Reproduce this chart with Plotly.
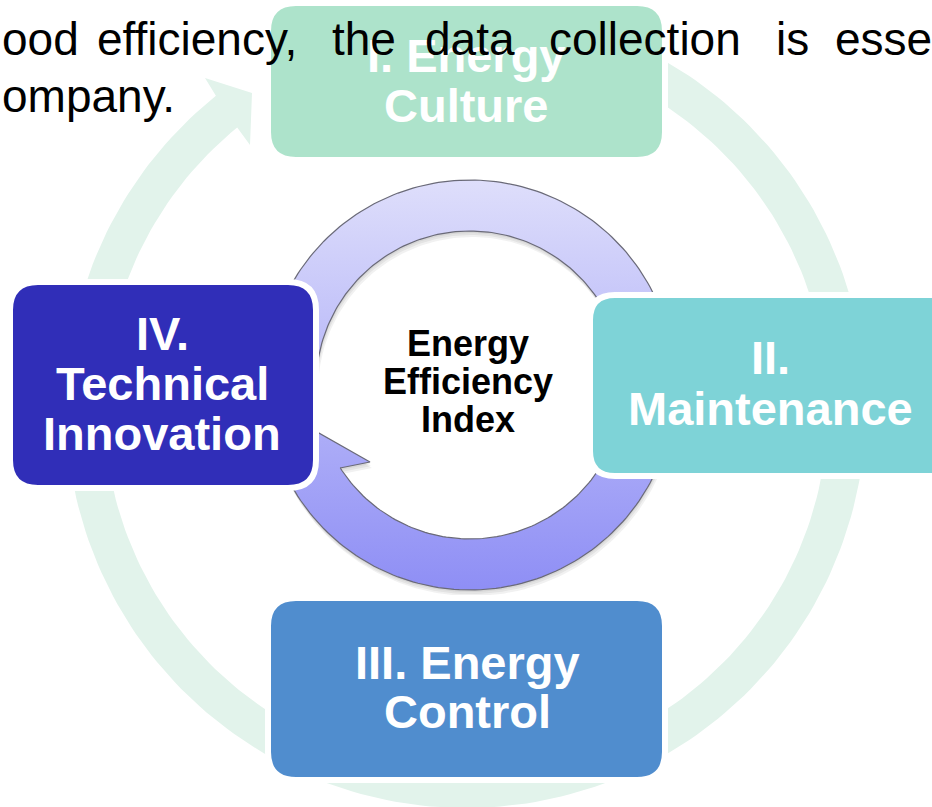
import numpy as np
import plotly.graph_objects as go

# ---- content (text / categories) ----
stage_lines = [
    ["I. Energy", "Culture"],
    ["II.", "Maintenance"],
    ["III. Energy", "Control"],
    ["IV.", "Technical", "Innovation"],
]
stage_colors = ["#ade3cb", "#7ed3d7", "#508dce", "#302eb8"]
center_lines = ["Energy", "Efficiency", "Index"]
body_line1 = ["ood", "efficiency,", "the", "data", "collection", "is", "esse"]
body_line2 = ["ompany."]

# ---- layout constants (positions / sizes) ----
W, H = 932, 807
box_geom = [  # x0, x1, y0, y1, corner radius (screen px)
    (271, 662, 6, 157, 25),
    (593, 965, 298, 473, 22),
    (271, 662, 601, 777, 25),
    (13, 313, 285, 485, 25),
]
stage_baselines = [[72, 122], [374, 425], [679, 728], [350, 400, 450]]
stage_cx = [466, 770, 467, 162]
center_baselines = [356, 394, 432]
body1_x = [0, 98, 333, 426, 550, 777, 836]
body1_base = 55
body2_x = [0]
body2_base = 112

BIG_C, BIG_RO, BIG_RI = (466, 408), 400, 362
IN_C, IN_RO, IN_RI = (470, 385), 205, 154


def arc(c, r, a0, a1, n=240):
    p = np.radians(np.linspace(a0, a1, n))
    return c[0] + r * np.cos(p), c[1] + r * np.sin(p)


def rrect(x0, x1, y0, y1, r):
    return (f"M{x0+r},{y0} L{x1-r},{y0} Q{x1},{y0} {x1},{y0+r} "
            f"L{x1},{y1-r} Q{x1},{y1} {x1-r},{y1} L{x0+r},{y1} "
            f"Q{x0},{y1} {x0},{y1-r} L{x0},{y0+r} Q{x0},{y0} {x0+r},{y0} Z")


fig = go.Figure()

# ---- big background circular arrow ----
xo, yo = arc(BIG_C, BIG_RO, -70, 231.3)
xi, yi = arc(BIG_C, BIG_RI, 230.8, -70)
hx = [205, 252, 250]
hy = [78, 93, 145]
bx = np.concatenate([xo, hx, xi, [xo[0]]])
by = np.concatenate([yo, hy, yi, [yo[0]]])
fig.add_trace(go.Scatter(x=bx, y=by, fill="toself", fillcolor="#e2f3eb",
                         line=dict(width=0, color="#e2f3eb"), mode="lines",
                         hoverinfo="skip", showlegend=False))

# ---- inner circular arrow ----
xo, yo = arc(IN_C, IN_RO, 185, 535)
xi, yi = arc(IN_C, IN_RI, 507.4, 185)
ax_ = np.concatenate([xo, [370, 340], xi, [xo[0]]])
ay_ = np.concatenate([yo, [462, 468], yi, [yo[0]]])
for dx, dy, op in [(2, 6, 0.07), (1, 4, 0.08), (0.5, 2, 0.08)]:
    fig.add_trace(go.Scatter(x=ax_ + dx, y=ay_ + dy, fill="toself",
                             fillcolor=f"rgba(60,60,60,{op})",
                             line=dict(width=0), mode="lines",
                             hoverinfo="skip", showlegend=False))
fig.add_trace(go.Scatter(x=ax_, y=ay_, fill="toself",
                         fillgradient=dict(type="vertical",
                                           colorscale=[[0, "#dedefb"], [1, "#8e8ef5"]],
                                           start=181, stop=592),
                         line=dict(width=1.2, color="#6a6a78"), mode="lines",
                         hoverinfo="skip", showlegend=False))

# ---- boxes ----
shapes = []
for (x0, x1, y0, y1, r), col in zip(box_geom, stage_colors):
    shapes.append(dict(type="path", path=rrect(x0 - 3, x1 + 3, y0 - 3, y1 + 3, r + 3),
                       xref="x", yref="y", fillcolor=col,
                       line=dict(color="white", width=6), layer="above"))

annotations = []
FS = 47
for lines, bases, cx in zip(stage_lines, stage_baselines, stage_cx):
    for t, b in zip(lines, bases):
        annotations.append(dict(x=cx, y=b - 0.35 * FS, xref="x", yref="y", text=t,
                                showarrow=False, xanchor="center", yanchor="middle",
                                font=dict(family="Liberation Sans, Arial", size=FS,
                                          color="white", weight="bold")))
FC = 36
for t, b in zip(center_lines, center_baselines):
    annotations.append(dict(x=468, y=b - 0.35 * FC, xref="x", yref="y", text=t,
                            showarrow=False, xanchor="center", yanchor="middle",
                            font=dict(family="Liberation Sans, Arial", size=FC,
                                      color="black", weight="bold")))
FB = 46
for t, x in zip(body_line1 + body_line2, body1_x + body2_x):
    base = body1_base if t in body_line1 else body2_base
    annotations.append(dict(x=max(x - 3, 0.01), y=base - 0.35 * FB, xref="x", yref="y",
                            text=t, showarrow=False, xanchor="left", yanchor="middle",
                            font=dict(family="Liberation Sans, Arial", size=FB,
                                      color="black")))

fig.update_layout(
    width=W, height=H, margin=dict(l=0, r=0, t=0, b=0),
    paper_bgcolor="white", plot_bgcolor="white",
    xaxis=dict(range=[0, W], visible=False, fixedrange=True),
    yaxis=dict(range=[H, 0], visible=False, fixedrange=True),
    shapes=shapes, annotations=annotations, showlegend=False,
)
fig.write_html("out.html", config={"displayModeBar": False},
               post_script="document.body.style.margin='0';document.body.style.overflow='hidden';")
